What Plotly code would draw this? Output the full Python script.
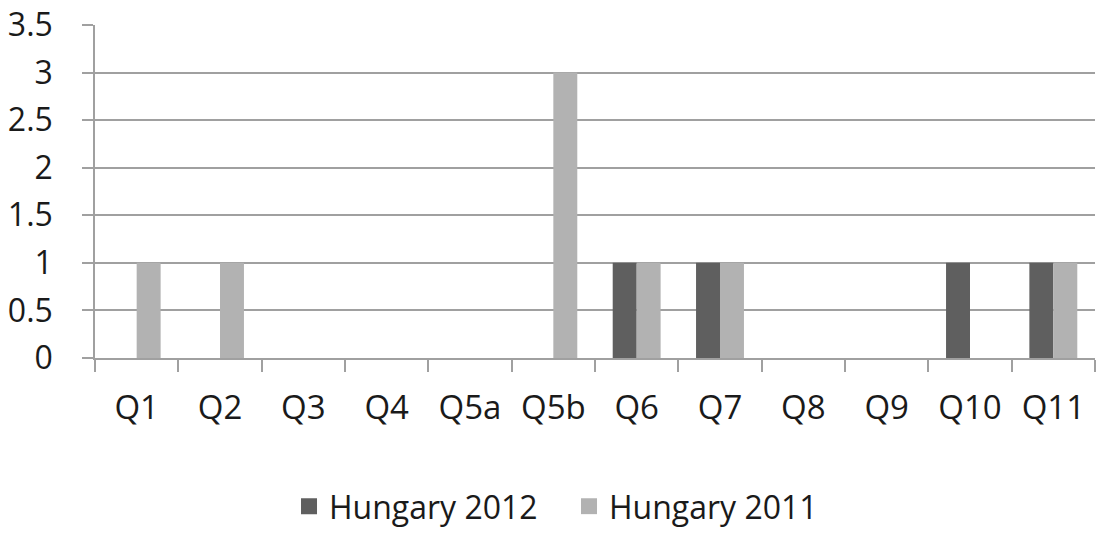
import plotly.graph_objects as go

categories = ["Q1", "Q2", "Q3", "Q4", "Q5a", "Q5b", "Q6", "Q7", "Q8", "Q9", "Q10", "Q11"]
hungary_2012 = [0, 0, 0, 0, 0, 0, 1, 1, 0, 0, 1, 1]
hungary_2011 = [1, 1, 0, 0, 0, 3, 1, 1, 0, 0, 0, 1]
series_names = ["Hungary 2012", "Hungary 2011"]
series_colors = ["#5f5f5f", "#b2b2b2"]

FONT = "Open Sans"
GRID = "#a0a0a0"

fig = go.Figure()
for name, vals, col in zip(series_names, [hungary_2012, hungary_2011], series_colors):
    fig.add_trace(go.Bar(x=categories, y=vals, name=name, showlegend=False,
                         marker=dict(color=col, line=dict(width=0))))
# legend entries with larger square swatches
for name, col in zip(series_names, series_colors):
    fig.add_trace(go.Scatter(x=[None], y=[None], mode="markers", name=name,
                             marker=dict(symbol="square", size=16, color=col)))

fig.update_layout(
    width=1097, height=533,
    margin=dict(l=95, r=2, t=25, b=175, autoexpand=False),
    paper_bgcolor="white", plot_bgcolor="white",
    barmode="group", bargap=0.425, bargroupgap=0,
    font=dict(family=FONT, size=32, color="#1a1a1a"),
    showlegend=True,
    legend=dict(orientation="h", xref="container", yref="container",
                x=0.5187, xanchor="center", y=0.05, yanchor="middle",
                font=dict(size=32), itemwidth=30, traceorder="normal",
                entrywidth=235, entrywidthmode="pixels"),
)
fig.update_xaxes(
    type="category", showline=True, linecolor=GRID, linewidth=1.5,
    ticks="outside", tickson="boundaries", ticklen=12, tickcolor=GRID, tickwidth=1.5,
    showgrid=False, ticklabelstandoff=20, tickfont=dict(size=33), automargin=False,
)
fig.update_yaxes(
    range=[0, 3.5], dtick=0.5, showline=True, linecolor=GRID, linewidth=1.5,
    ticks="outside", ticklen=11, tickcolor=GRID, tickwidth=1.5,
    showgrid=True, gridcolor=GRID, gridwidth=1.5, zeroline=False,
    ticklabelstandoff=23, tickfont=dict(size=32), automargin=False,
)

page_css = (
    "var h=document.documentElement, b=document.body;"
    "h.style.margin='0';h.style.padding='0';h.style.overflow='hidden';"
    "b.style.margin='0';b.style.padding='0';b.style.overflow='hidden';"
)

fig.write_html("out.html", config={"displayModeBar": False}, post_script=page_css)
